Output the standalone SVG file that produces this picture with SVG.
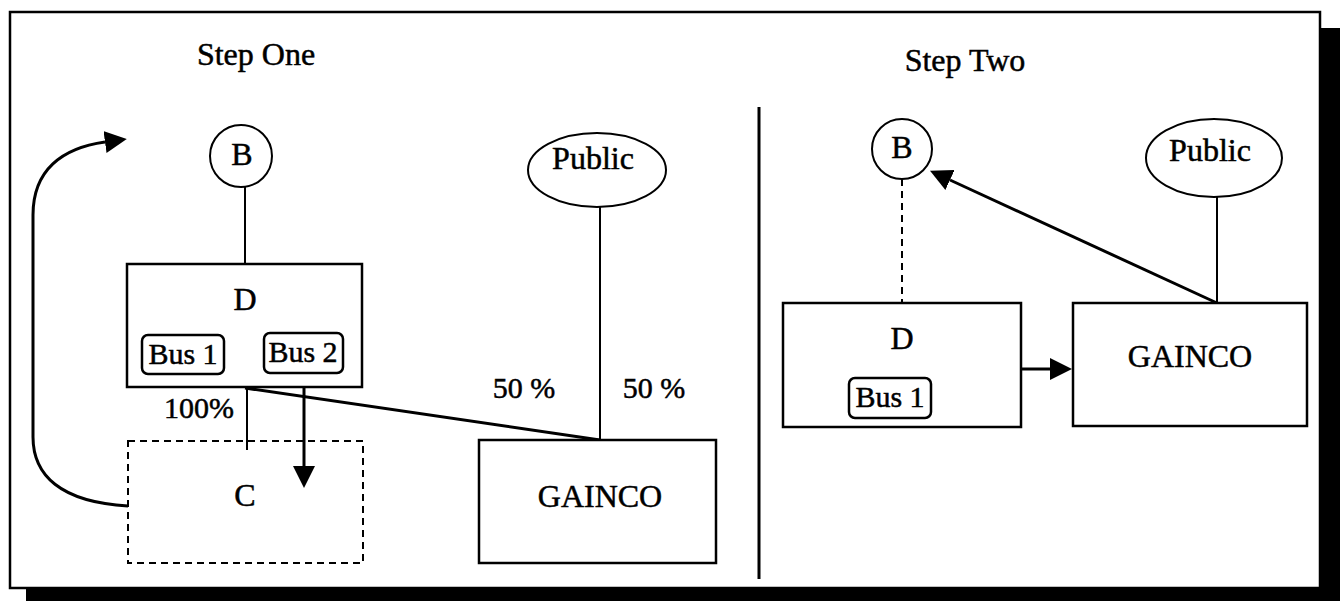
<svg xmlns="http://www.w3.org/2000/svg" width="1343" height="601" viewBox="0 0 1343 601">
  <style>
    text { font-family: "Liberation Serif", "DejaVu Serif", serif; fill: #000; stroke: #000; stroke-width: 0.5; text-anchor: middle; }
    .title { font-size: 32px; }
    .lbl { font-size: 32px; }
    .small { font-size: 30px; }
    .box { fill: #fff; stroke: #000; stroke-width: 2.5; }
    .bus { fill: #fff; stroke: #000; stroke-width: 2.5; }
    .dash { fill: none; stroke: #000; stroke-width: 2; stroke-dasharray: 7 5; }
    .ln { fill: none; stroke: #000; stroke-width: 2; }
    .thick { fill: none; stroke: #000; stroke-width: 3; }
  </style>
  <defs>
    <marker id="head" markerUnits="userSpaceOnUse" markerWidth="22" markerHeight="22" refX="0" refY="11" orient="auto" viewBox="0 0 22 22">
      <path d="M0,0 L22,11 L0,22 z" fill="#000"/>
    </marker>
  </defs>

  <!-- frame with drop shadow -->
  <rect x="26" y="28" width="1314" height="573" fill="#000"/>
  <rect x="10" y="12" width="1310" height="576" fill="#fff" stroke="#000" stroke-width="2.5"/>
  <line x1="759" y1="107" x2="759" y2="579" stroke="#000" stroke-width="3"/>

  <text class="title" x="256" y="65">Step One</text>
  <text class="title" x="965" y="71">Step Two</text>

  <!-- connectors -->
  <g id="connectors">
    <!-- step one -->
    <line class="ln" x1="245" y1="187" x2="245" y2="264"/>
    <line class="ln" x1="247" y1="387" x2="247" y2="450"/>
    <line class="thick" x1="245" y1="388" x2="600" y2="440"/>
    <line class="ln" x1="600" y1="207" x2="600" y2="440"/>
    <line class="thick" x1="304" y1="373" x2="304" y2="466" marker-end="url(#head)"/>
    <path class="thick" d="M128,506 C60,502 33,475 33,437 L33,215 C33,170 62,148 105,142" marker-end="url(#head)"/>
    <!-- step two -->
    <line class="dash" x1="902" y1="179" x2="902" y2="303"/>
    <line class="ln" x1="1217" y1="197" x2="1217" y2="303"/>
    <line class="thick" x1="1021" y1="369" x2="1050" y2="369" marker-end="url(#head)"/>
    <line class="thick" x1="1217" y1="303" x2="950" y2="180" marker-end="url(#head)"/>
  </g>

  <!-- step one nodes -->
  <g id="s1-b">
    <circle cx="241" cy="156" r="31" fill="#fff" stroke="#000" stroke-width="2"/>
    <text class="lbl" x="242" y="165">B</text>
  </g>
  <g id="s1-d">
    <rect class="box" x="127" y="264" width="235" height="123"/>
    <text class="lbl" x="245" y="310">D</text>
    <rect class="bus" x="142" y="335" width="82" height="39" rx="6"/>
    <text class="small" x="183" y="364">Bus 1</text>
    <rect class="bus" x="264" y="333" width="79" height="40" rx="6"/>
    <text class="small" x="303" y="362">Bus 2</text>
  </g>
  <g id="s1-c">
    <rect class="dash" x="128" y="441" width="235" height="122"/>
    <text class="lbl" x="245" y="506">C</text>
  </g>
  <text class="small" x="199" y="418">100%</text>
  <g id="s1-public">
    <ellipse cx="597" cy="170" rx="69" ry="37" fill="#fff" stroke="#000" stroke-width="2"/>
    <text class="lbl" x="593" y="169">Public</text>
  </g>
  <text class="small" x="524" y="398">50 %</text>
  <text class="small" x="654" y="398">50 %</text>
  <g id="s1-gainco">
    <rect class="box" x="479" y="440" width="237" height="123"/>
    <text class="lbl" x="600" y="507">GAINCO</text>
  </g>

  <!-- step two nodes -->
  <g id="s2-b">
    <circle cx="902" cy="149" r="30" fill="#fff" stroke="#000" stroke-width="2"/>
    <text class="lbl" x="902" y="158">B</text>
  </g>
  <g id="s2-d">
    <rect class="box" x="783" y="303" width="238" height="124"/>
    <text class="lbl" x="902" y="349">D</text>
    <rect class="bus" x="849" y="378" width="82" height="40" rx="6"/>
    <text class="small" x="890" y="407">Bus 1</text>
  </g>
  <g id="s2-gainco">
    <rect class="box" x="1073" y="303" width="234" height="123"/>
    <text class="lbl" x="1190" y="367">GAINCO</text>
  </g>
  <g id="s2-public">
    <ellipse cx="1214" cy="158" rx="68" ry="39" fill="#fff" stroke="#000" stroke-width="2"/>
    <text class="lbl" x="1210" y="161">Public</text>
  </g>
</svg>
